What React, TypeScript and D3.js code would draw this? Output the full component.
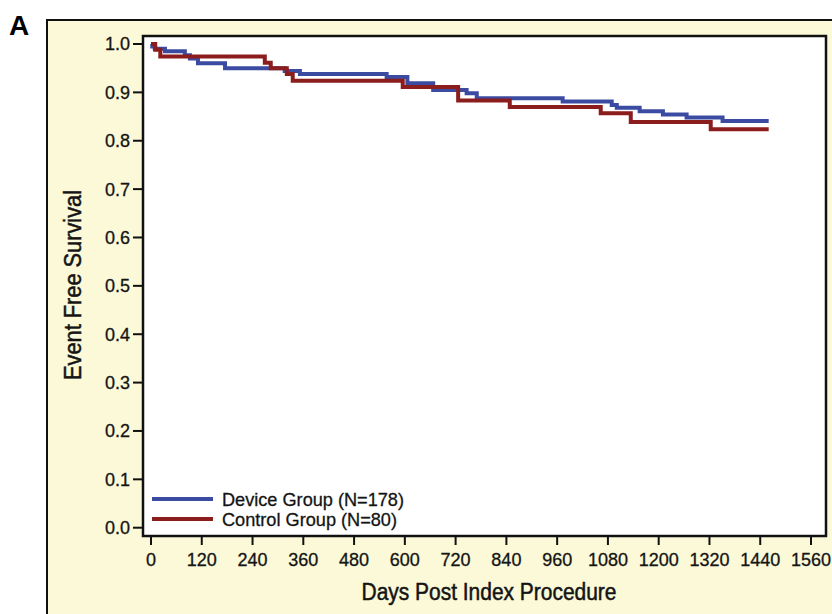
import React from 'react';
import * as d3 from 'd3';

// Kaplan-Meier steps (day where the step starts, survival after it)
const deviceDays = [0, 3, 9, 33, 80, 92, 111, 175, 316, 352, 557, 606, 667, 746, 770, 973, 1089, 1101, 1155, 1210, 1266, 1351];
const deviceSurv = [1.0, 0.995, 0.99, 0.985, 0.977, 0.97, 0.96, 0.95, 0.944, 0.938, 0.932, 0.919, 0.905, 0.898, 0.888, 0.881, 0.874, 0.868, 0.861, 0.854, 0.848, 0.841];

const controlDays = [0, 10, 22, 269, 283, 321, 335, 595, 726, 848, 1063, 1134, 1323];
const controlSurv = [1.0, 0.988, 0.974, 0.961, 0.95, 0.938, 0.924, 0.911, 0.883, 0.87, 0.857, 0.839, 0.824];

const lastDay = 1460;

const xTicks = [0, 120, 240, 360, 480, 600, 720, 840, 960, 1080, 1200, 1320, 1440, 1560];
const yTicks = [0, 0.1, 0.2, 0.3, 0.4, 0.5, 0.6, 0.7, 0.8, 0.9, 1.0];

const groups = [
  { name: 'Device Group (N=178)', days: deviceDays, surv: deviceSurv, color: '#3b4ba1', len: 182 },
  { name: 'Control Group (N=80)', days: controlDays, surv: controlSurv, color: '#8c1d1d', len: 175 },
];

const FONT = '"Liberation Sans", Arial, Helvetica, sans-serif';
const INK = '#141414';

export default function App() {
  // plot box
  const left = 143, right = 826, top = 36, bottom = 536;

  const x = d3.scaleLinear().domain([0, 1560]).range([151, 811]);
  const y = d3.scaleLinear().domain([0, 1]).range([527.7, 44]);

  const line = d3
    .line<[number, number]>()
    .x(d => x(d[0]))
    .y(d => y(d[1]))
    .curve(d3.curveStepAfter);

  const pathFor = (days: number[], surv: number[]) => {
    const pts: [number, number][] = days.map((d, i) => [d, surv[i]]);
    pts.push([lastDay, surv[surv.length - 1]]);
    return line(pts) || '';
  };

  return (
    <svg
      width={832}
      height={614}
      style={{ position: 'absolute', left: 0, top: 0, background: '#fff' }}
      fontFamily={FONT}
    >
      {/* panel */}
      <rect x={47} y={20} width={800} height={610} fill="#fbf9d8" stroke="#111" strokeWidth={2} />
      <text x={9} y={35} fontSize={28} fontWeight="bold" fill="#000">A</text>

      {/* plot area */}
      <rect x={left} y={top} width={right - left} height={bottom - top} fill="#fff" />

      <defs>
        <clipPath id="plotClip">
          <rect x={left} y={top} width={right - left} height={bottom - top} />
        </clipPath>
      </defs>

      <g clipPath="url(#plotClip)">
        {groups.map(g => (
          <path
            key={g.name}
            d={pathFor(g.days, g.surv)}
            fill="none"
            stroke={g.color}
            strokeWidth={4}
          />
        ))}
      </g>

      <rect x={left} y={top} width={right - left} height={bottom - top} fill="none" stroke="#111" strokeWidth={2.5} />

      {/* y axis */}
      {yTicks.map(t => (
        <g key={t}>
          <line x1={133} x2={left} y1={y(t)} y2={y(t)} stroke="#111" strokeWidth={2} />
          <text x={130} y={y(t)} dy="0.36em" textAnchor="end" fontSize={18} fill={INK} stroke={INK} strokeWidth={0.3}>
            {t.toFixed(1)}
          </text>
        </g>
      ))}

      {/* x axis */}
      {xTicks.map(t => (
        <g key={t}>
          <line x1={x(t)} x2={x(t)} y1={bottom} y2={545} stroke="#111" strokeWidth={2} />
          <text x={x(t)} y={566} textAnchor="middle" fontSize={18} fill={INK} stroke={INK} strokeWidth={0.3}>
            {t}
          </text>
        </g>
      ))}

      <text
        x={489}
        y={600}
        textAnchor="middle"
        fontSize={23.5}
        fill={INK}
        stroke={INK}
        strokeWidth={0.5}
        textLength={255}
        lengthAdjust="spacingAndGlyphs"
      >
        Days Post Index Procedure
      </text>
      <text
        transform="translate(81,285) rotate(-90)"
        textAnchor="middle"
        fontSize={23.5}
        fill={INK}
        stroke={INK}
        strokeWidth={0.5}
        textLength={190}
        lengthAdjust="spacingAndGlyphs"
      >
        Event Free Survival
      </text>

      {/* legend */}
      {groups.map((g, i) => (
        <g key={g.name}>
          <line x1={152} x2={213} y1={499 + i * 20} y2={499 + i * 20} stroke={g.color} strokeWidth={4} />
          <text
            x={222}
            y={505.5 + i * 20}
            fontSize={18.5}
            fill={INK}
            stroke={INK}
            strokeWidth={0.3}
            textLength={g.len}
            lengthAdjust="spacingAndGlyphs"
          >
            {g.name}
          </text>
        </g>
      ))}
    </svg>
  );
}
